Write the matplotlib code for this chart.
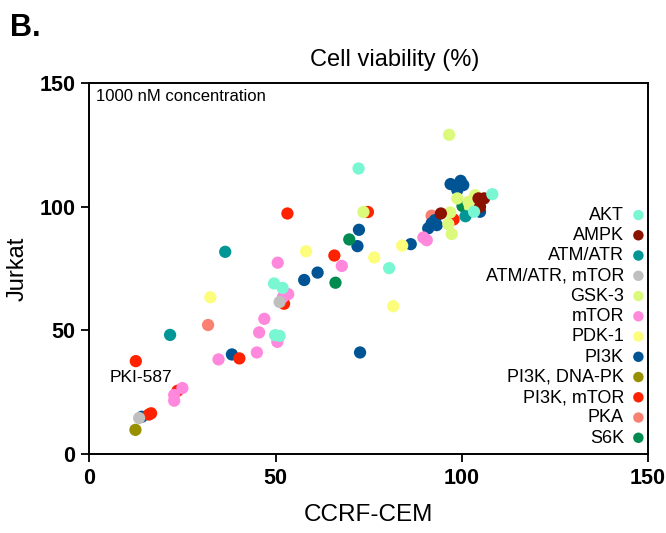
import matplotlib
matplotlib.use('Agg')
import matplotlib.pyplot as plt

plt.rcParams['font.family'] = ['Liberation Sans', 'DejaVu Sans']

# data (CCRF-CEM, Jurkat) per target class
akt_x = [72.3, 49.6, 51.9, 49.9, 51.1, 80.5, 103.3, 108.2]
akt_y = [115.5, 69.0, 67.2, 48.1, 47.8, 75.2, 98.0, 105.1]
ampk_x = [94.4, 104.5, 106.0, 104.9]
ampk_y = [97.3, 103.4, 103.4, 100.0]
atm_x = [36.5, 21.7, 101.0]
atm_y = [81.8, 48.2, 96.2]
atm_mtor_x = [51.1, 13.4]
atm_mtor_y = [61.5, 14.6]
gsk_x = [96.6, 73.6, 98.8, 101.8, 103.6, 102.2, 96.9, 96.4, 97.3]
gsk_y = [129.1, 97.9, 103.4, 102.0, 104.7, 100.0, 97.7, 93.0, 89.0]
mtor_x = [50.6, 53.4, 52.0, 47.0, 45.6, 50.5, 45.0, 34.7, 25.0, 22.8, 22.8, 67.8, 89.7, 90.6]
mtor_y = [77.4, 64.7, 63.5, 54.7, 49.2, 45.4, 41.1, 38.3, 26.7, 23.9, 21.6, 76.1, 87.6, 86.5]
pdk_x = [32.5, 58.2, 76.5, 84.0, 81.6]
pdk_y = [63.4, 82.0, 79.5, 84.3, 59.8]
pi3k_x = [72.4, 72.0, 61.3, 57.7, 72.7, 38.3, 14.1, 86.3, 97.0, 99.7, 100.4, 98.8,
          91.9, 93.3, 91.0, 92.8, 104.9]
pi3k_y = [90.7, 84.1, 73.4, 70.4, 41.1, 40.3, 15.1, 84.9, 109.2, 110.5, 108.8, 106.8,
          93.3, 92.6, 91.3, 94.6, 98.0]
pi3k_dna_x = [12.4]
pi3k_dna_y = [9.8]
pi3k_mtor_x = [53.2, 74.8, 65.8, 52.3, 40.3, 12.5, 23.7, 16.6, 16.0, 97.8]
pi3k_mtor_y = [97.3, 97.9, 80.3, 60.8, 38.7, 37.6, 25.6, 16.5, 16.0, 94.9]
pka_x = [31.9, 91.9]
pka_y = [52.2, 96.4]
s6k_x = [69.8, 66.1, 100.2]
s6k_y = [86.8, 69.3, 100.3]

groups = [
    ('AKT', akt_x, akt_y, '#78f7d2', 11),
    ('AMPK', ampk_x, ampk_y, '#8c1200', 9),
    ('ATM/ATR', atm_x, atm_y, '#009696', 8),
    ('ATM/ATR, mTOR', atm_mtor_x, atm_mtor_y, '#bfbfbf', 10),
    ('GSK-3', gsk_x, gsk_y, '#dbfa7c', 7),
    ('mTOR', mtor_x, mtor_y, '#ff88dd', 6),
    ('PDK-1', pdk_x, pdk_y, '#fdfd7c', 5),
    ('PI3K', pi3k_x, pi3k_y, '#005494', 3),
    ('PI3K, DNA-PK', pi3k_dna_x, pi3k_dna_y, '#999000', 12),
    ('PI3K, mTOR', pi3k_mtor_x, pi3k_mtor_y, '#ff2200', 4),
    ('PKA', pka_x, pka_y, '#fa8072', 2),
    ('S6K', s6k_x, s6k_y, '#008c50', 3),
]

fig = plt.figure(figsize=(6.66, 5.33), dpi=100)
ax = fig.add_axes([0.134, 0.148, 0.839, 0.696])

for name, xs, ys, col, z in groups:
    ax.scatter(xs, ys, s=78, color=col, edgecolors='none', label=name, zorder=z)

ax.set_xlim(0, 150)
ax.set_ylim(0, 150)
ax.set_xticks([0, 50, 100, 150])
ax.set_yticks([0, 50, 100, 150])
ax.tick_params(direction='out', length=6, width=1.3, labelsize=15.5, pad=4)
for lab in ax.get_xticklabels() + ax.get_yticklabels():
    lab.set_fontweight('bold')
for sp in ax.spines.values():
    sp.set_linewidth(1.4)

ax.set_xlabel('CCRF-CEM', fontsize=17.5, labelpad=11)
ax.set_ylabel('Jurkat', fontsize=17, labelpad=8)
ax.set_title('Cell viability (%)', fontsize=17, pad=12, x=0.547)

ax.text(0.012, 0.985, '1000 nM concentration', transform=ax.transAxes,
        fontsize=12, va='top', ha='left')
ax.text(5.6, 31.1, 'PKI-587', fontsize=12.5, va='center', ha='left')
fig.text(0.015, 0.975, 'B.', fontsize=22, fontweight='bold', va='top', ha='left')

ax.legend(loc='lower right', bbox_to_anchor=(1.007, 0.001), frameon=False,
          markerfirst=False, fontsize=13, handlelength=0.7, handletextpad=0.45,
          labelspacing=0.18, borderaxespad=0.2, borderpad=0.2,
          scatterpoints=1, markerscale=0.85)

fig.savefig('out.png', dpi=100)
plt.close(fig)
